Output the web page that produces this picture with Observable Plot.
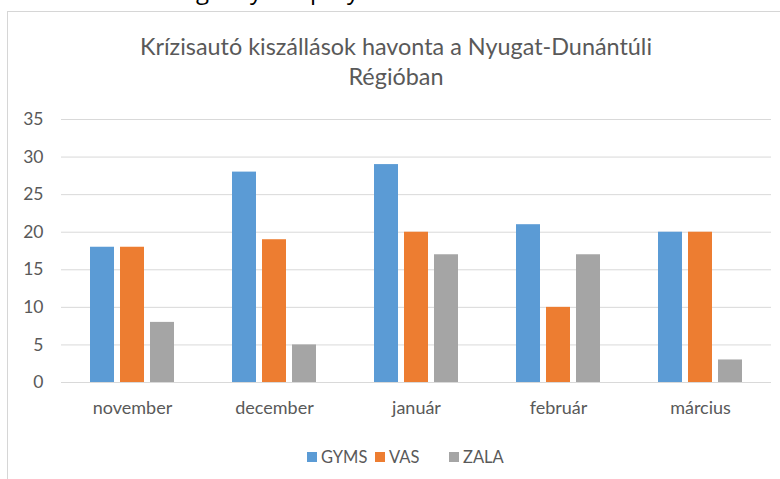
<!DOCTYPE html>
<html>
<head>
<meta charset="utf-8">
<script src="https://cdn.jsdelivr.net/npm/d3@7"></script>
<script src="https://cdn.jsdelivr.net/npm/@observablehq/plot@0.6"></script>
<style>
  html, body { margin: 0; padding: 0; background: #fff; }
  #page { position: relative; width: 780px; height: 479px; overflow: hidden; background: #fff; font-family: Lato, "Open Sans", sans-serif; }
  #frame { position: absolute; left: 7px; top: 11px; width: 800px; height: 500px; border-top: 1px solid #d6d6d6; border-left: 1px solid #d6d6d6; }
  #cut { position: absolute; left: 0; top: 0; width: 780px; height: 9px; overflow: hidden; }
  #cut span { position: absolute; top: -25px; font-size: 24px; line-height: 30px; color: #000; font-family: "Open Sans", sans-serif; }
  #title { position: absolute; left: 0; width: 792px; top: 31px; text-align: center; color: #595959; font-size: 23.4px; font-weight: 400; line-height: 30px; }
  #chart { position: absolute; left: 0; top: 100px; }
  #legend { position: absolute; top: 447px; left: 0; width: 780px; height: 20px; color: #595959; font-size: 16.5px; }
  #legend .sw { position: absolute; top: 5px; width: 10px; height: 10px; }
  #legend .lab { position: absolute; top: 0; line-height: 20px; }
</style>
</head>
<body>
<div id="page">
  <div id="cut"><span style="left:196px">g</span><span style="left:250px">y</span><span style="left:310px">p</span><span style="left:347px">y</span></div>
  <div id="frame"></div>
  <div id="title">Krízisautó kiszállások havonta a Nyugat-Dunántúli<br>Régióban</div>
  <div id="chart"></div>
  <div id="legend"></div>
</div>
<script>
const months = ["november", "december", "január", "február", "március"];
const series = ["GYMS", "VAS", "ZALA"];
const GYMS = [18, 28, 29, 21, 20];
const VAS = [18, 19, 20, 10, 20];
const ZALA = [8, 5, 17, 17, 3];
const colors = ["#5B9BD5", "#ED7D31", "#A5A5A5"];
const yTicks = [0, 5, 10, 15, 20, 25, 30, 35];

const values = {GYMS, VAS, ZALA};
const data = [];
months.forEach((m, i) => series.forEach(s => data.push({month: m, series: s, value: values[s][i]})));

const chart = Plot.plot({
  width: 780,
  height: 320,
  marginTop: 19,
  marginBottom: 38,
  marginLeft: 60,
  marginRight: 8,
  style: {fontFamily: "Lato, 'Open Sans', sans-serif", color: "#595959", background: "transparent"},
  fx: {domain: months, padding: 0, label: null},
  x: {domain: series, paddingInner: 0.19, paddingOuter: 0.89, axis: null},
  y: {domain: [0, 35], label: null},
  color: {domain: series, range: colors},
  marks: [
    Plot.gridY(yTicks, {stroke: "#d9d9d9", strokeOpacity: 1}),
    Plot.axisY(yTicks, {tickSize: 0, tickPadding: 18, fontSize: 17.5, fill: "#595959", label: null}),
    Plot.axisFx({anchor: "bottom", tickSize: 0, tickPadding: 19, fontSize: 18, fill: "#595959", label: null}),
    Plot.barY(data, {fx: "month", x: "series", y: "value", fill: "series"}),
    Plot.ruleY([0], {stroke: "#d9d9d9"})
  ]
});
document.getElementById("chart").appendChild(chart);

const legend = document.getElementById("legend");
const legendX = [307, 375, 449];
series.forEach((s, i) => {
  const sw = document.createElement("div");
  sw.className = "sw";
  sw.style.left = legendX[i] + "px";
  sw.style.background = colors[i];
  legend.appendChild(sw);
  const lab = document.createElement("span");
  lab.className = "lab";
  lab.style.left = (legendX[i] + 14) + "px";
  lab.textContent = s;
  legend.appendChild(lab);
});
</script>
</body>
</html>
